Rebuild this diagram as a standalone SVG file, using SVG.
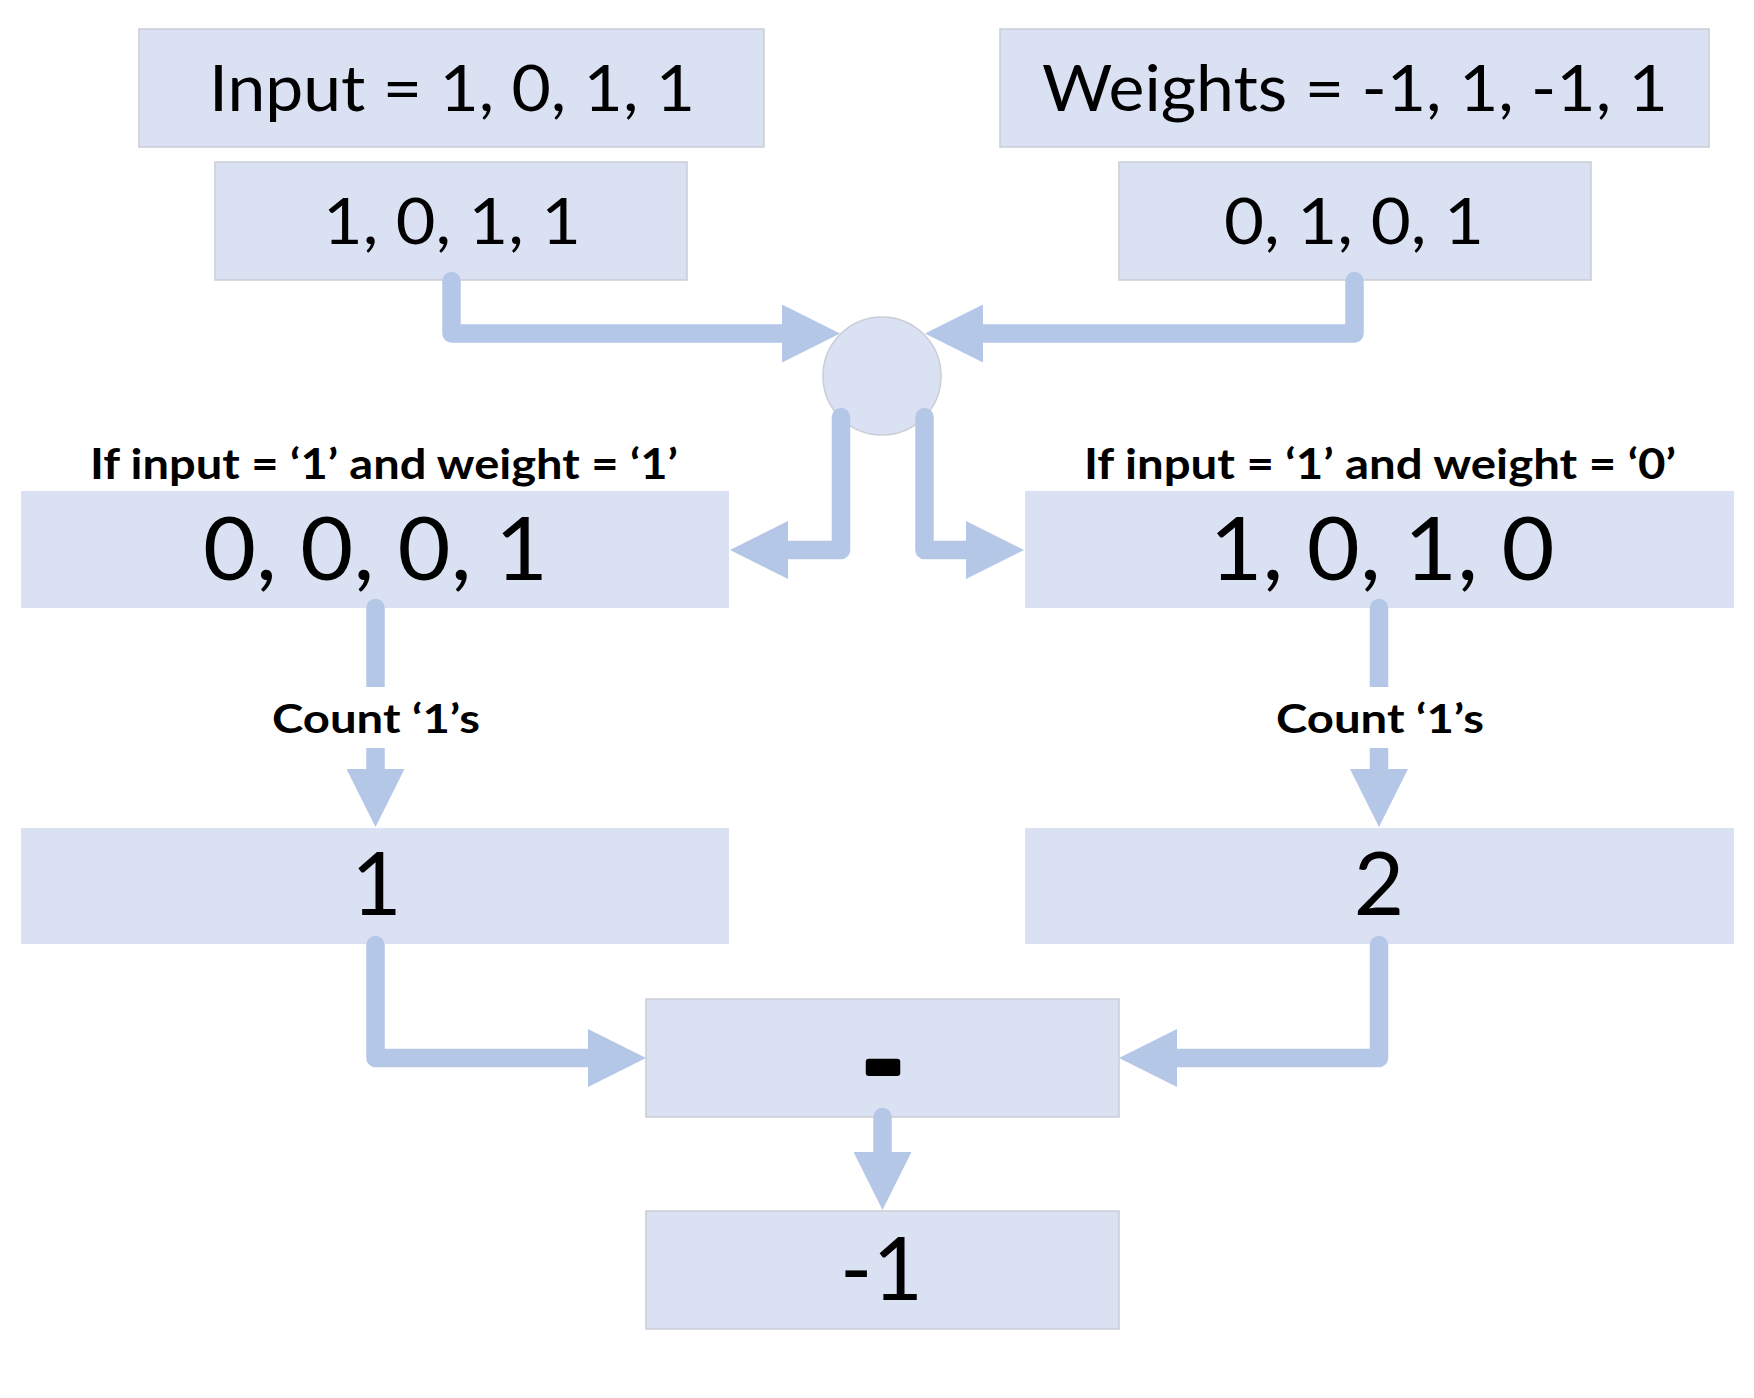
<svg xmlns="http://www.w3.org/2000/svg" width="1754" height="1398" viewBox="0 0 1754 1398">
  <style>
    .box { fill: #DAE1F3; stroke: #C9CDD6; stroke-width: 1.5; }
    .boxn { fill: #DAE1F3; stroke: none; }
    .conn { fill: none; stroke: #B4C7E7; stroke-width: 18.5; stroke-linecap: round; stroke-linejoin: round; }
    .t { font-family: Lato, "Open Sans", "Liberation Sans", sans-serif; fill: #000; text-anchor: middle; }
    .big { font-size: 64px; }
    .huge { font-size: 87px; }
    .lbl { font-size: 42px; font-weight: bold; }
    .cnt { font-size: 40px; font-weight: bold; }
  </style>
  <defs>
    <marker id="ah" markerUnits="userSpaceOnUse" markerWidth="58" markerHeight="58" viewBox="0 0 58 58" refX="0" refY="29" orient="auto">
      <path d="M0,0 L58,29 L0,58 Z" fill="#B4C7E7"/>
    </marker>
  </defs>
  <rect width="1754" height="1398" fill="#FFFFFF"/>

  <g id="input">
    <rect class="box" x="139" y="29" width="625" height="118"/>
    <text class="t big" x="452" y="111" textLength="486" lengthAdjust="spacingAndGlyphs">Input = 1, 0, 1, 1</text>
  </g>
  <g id="input-bits">
    <rect class="box" x="215" y="162" width="472" height="118"/>
    <text class="t big" x="452" y="244" textLength="258" lengthAdjust="spacingAndGlyphs">1, 0, 1, 1</text>
  </g>
  <g id="weights">
    <rect class="box" x="1000" y="29" width="709" height="118"/>
    <text class="t big" x="1355" y="111" textLength="626" lengthAdjust="spacingAndGlyphs">Weights = -1, 1, -1, 1</text>
  </g>
  <g id="weight-bits">
    <rect class="box" x="1119" y="162" width="472" height="118"/>
    <text class="t big" x="1354" y="244" textLength="260" lengthAdjust="spacingAndGlyphs">0, 1, 0, 1</text>
  </g>
  <g id="combine">
    <circle cx="882" cy="376" r="59" fill="#DAE1F3" stroke="#C9CDD6" stroke-width="1.5"/>
  </g>
  <g id="and-11">
    <text class="t lbl" x="384" y="479" textLength="588" lengthAdjust="spacingAndGlyphs">If input = ‘1’ and weight = ‘1’</text>
    <rect class="boxn" x="21" y="491" width="708" height="117"/>
    <text class="t huge" x="375.5" y="580" textLength="345" lengthAdjust="spacingAndGlyphs">0, 0, 0, 1</text>
  </g>
  <g id="and-10">
    <text class="t lbl" x="1380" y="479" textLength="592" lengthAdjust="spacingAndGlyphs">If input = ‘1’ and weight = ‘0’</text>
    <rect class="boxn" x="1025" y="491" width="709" height="117"/>
    <text class="t huge" x="1382" y="580" textLength="345" lengthAdjust="spacingAndGlyphs">1, 0, 1, 0</text>
  </g>
  <g id="sum-left">
    <rect class="boxn" x="21" y="828" width="708" height="116"/>
    <text class="t huge" x="376.5" y="915">1</text>
  </g>
  <g id="sum-right">
    <rect class="boxn" x="1025" y="828" width="709" height="116"/>
    <text class="t huge" x="1379" y="915">2</text>
  </g>
  <g id="subtract">
    <rect class="box" x="646" y="999" width="473" height="118"/>
    <text class="t" x="883" y="1100" font-size="110" font-weight="bold" stroke="#000" stroke-width="6" stroke-linejoin="round">-</text>
  </g>
  <g id="result">
    <rect class="box" x="646" y="1211" width="473" height="118"/>
    <text class="t huge" x="881.5" y="1300">-1</text>
  </g>

  <g id="connectors">
    <path class="conn" d="M451.5,281 V333.5 H782" marker-end="url(#ah)"/>
    <path class="conn" d="M1354.5,281 V333.5 H983" marker-end="url(#ah)"/>
    <path class="conn" d="M841,417 V550 H788" marker-end="url(#ah)"/>
    <path class="conn" d="M924.5,417 V550 H966" marker-end="url(#ah)"/>
    <path class="conn" d="M375.5,608 V769" marker-end="url(#ah)"/>
    <path class="conn" d="M1379,608 V769" marker-end="url(#ah)"/>
    <path class="conn" d="M375.5,945 V1058 H588" marker-end="url(#ah)"/>
    <path class="conn" d="M1379,945 V1058 H1177" marker-end="url(#ah)"/>
    <path class="conn" d="M882.5,1117 V1152" marker-end="url(#ah)"/>
  </g>

  <g id="count-left">
    <rect x="265" y="687" width="222" height="61" fill="#FFFFFF"/>
    <text class="t cnt" x="376" y="733" textLength="208" lengthAdjust="spacingAndGlyphs">Count ‘1’s</text>
  </g>
  <g id="count-right">
    <rect x="1269" y="687" width="222" height="61" fill="#FFFFFF"/>
    <text class="t cnt" x="1380" y="733" textLength="208" lengthAdjust="spacingAndGlyphs">Count ‘1’s</text>
  </g>
</svg>
